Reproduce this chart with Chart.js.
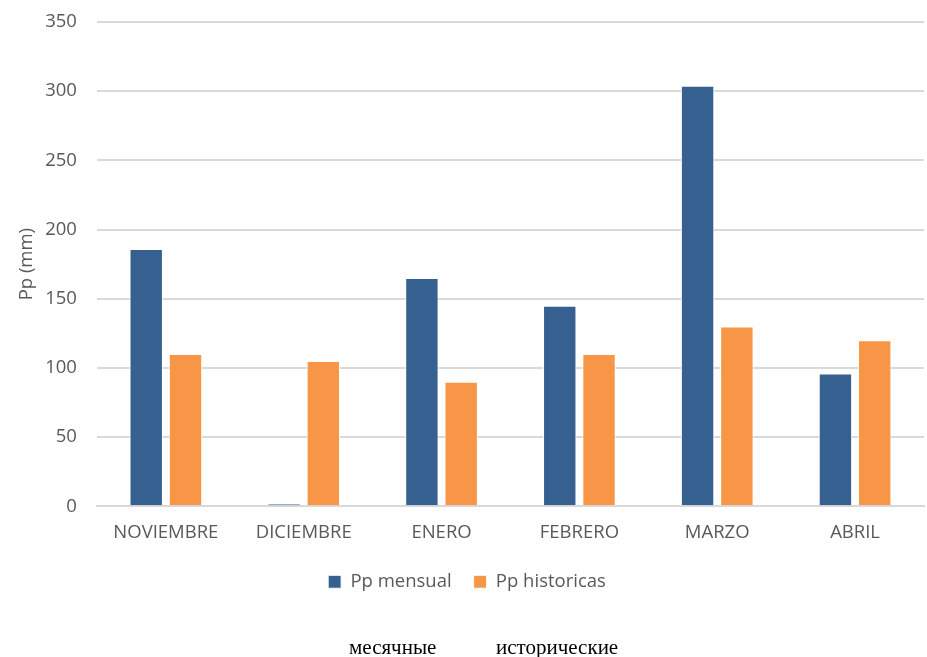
<!DOCTYPE html>
<html>
<head>
<meta charset="utf-8">
<script src="https://cdn.jsdelivr.net/npm/chart.js@4/dist/chart.umd.min.js"></script>
<style>
  html, body { margin: 0; padding: 0; background: #fff; }
  #wrap { position: relative; width: 927px; height: 657px; }
  .ru { position: absolute; top: 635px; font-family: "Liberation Serif", serif; font-size: 21px; color: #000; }
</style>
</head>
<body>
<div id="wrap">
  <canvas id="chart" width="927" height="657"></canvas>
  <div class="ru" style="left:349px">месячные</div>
  <div class="ru" style="left:496px">исторические</div>
</div>
<script>
var months = ["NOVIEMBRE", "DICIEMBRE", "ENERO", "FEBRERO", "MARZO", "ABRIL"];
var ppMensual = [186, 2, 165, 145, 304, 96];
var ppHistoricas = [110, 105, 90, 110, 130, 120];
var yTicks = [0, 50, 100, 150, 200, 250, 300, 350];

var grey = "#595959";
var font = "'Open Sans', 'Noto Sans', sans-serif";

var ctx = document.getElementById("chart");
new Chart(ctx, {
  type: "bar",
  data: {
    labels: months,
    datasets: [{
      label: "Pp mensual",
      data: ppMensual,
      backgroundColor: "#36608f",
      borderColor: "#ffffff",
      borderWidth: 1,
      categoryPercentage: 0.57,
      barPercentage: 0.85
    }, {
      label: "Pp historicas",
      data: ppHistoricas,
      backgroundColor: "#f79646",
      borderColor: "#ffffff",
      borderWidth: 1,
      categoryPercentage: 0.57,
      barPercentage: 0.85
    }]
  },
  options: {
    responsive: false,
    animation: false,
    layout: { padding: { left: 10, right: 3, top: 22, bottom: 56 } },
    plugins: {
      legend: {
        position: "bottom",
        labels: {
          color: grey,
          font: { family: font, size: 18.5 },
          boxWidth: 13,
          boxHeight: 13,
          padding: 22
        }
      },
      tooltip: { enabled: false }
    },
    scales: {
      x: {
        grid: { display: false },
        border: { color: "#d9d9d9", width: 2 },
        ticks: { color: grey, font: { family: font, size: 18.5 }, padding: 7, maxRotation: 0 }
      },
      y: {
        min: 0,
        max: 350,
        afterBuildTicks: function (axis) {
          axis.ticks = yTicks.map(function (v) { return { value: v }; });
        },
        grid: { color: "#d9d9d9", lineWidth: 2, drawTicks: true, tickLength: 20, tickColor: "rgba(0,0,0,0)" },
        border: { display: false },
        ticks: { color: grey, font: { family: font, size: 18.5 }, padding: 0 },
        title: { display: true, text: "Pp (mm)", color: grey, font: { family: font, size: 18.5 }, padding: { top: 6, bottom: 7 } }
      }
    }
  }
});
</script>
</body>
</html>
